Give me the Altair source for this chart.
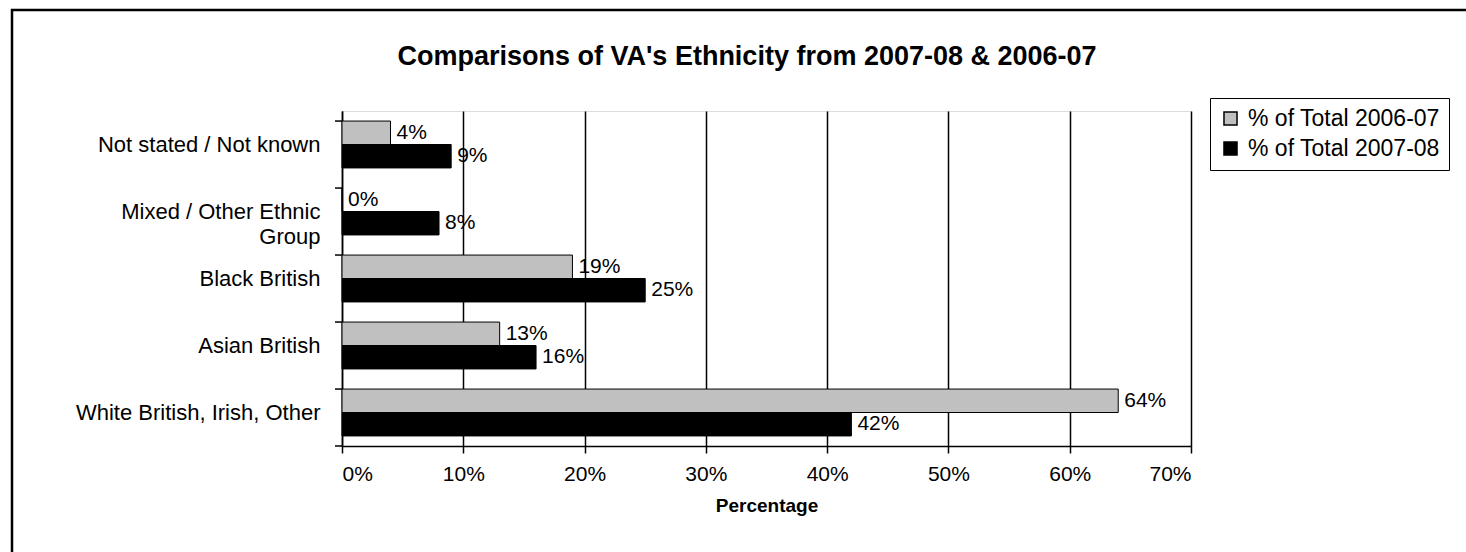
import altair as alt
import pandas as pd

title_text = "Comparisons of VA's Ethnicity from 2007-08 & 2006-07"
categories = ["Not stated / Not known", "Mixed / Other Ethnic Group", "Black British",
              "Asian British", "White British, Irish, Other"]
series = ["% of Total 2006-07", "% of Total 2007-08"]
values_2006 = [4, 0, 19, 13, 64]
values_2007 = [9, 8, 25, 16, 42]
x_ticks = [0, 10, 20, 30, 40, 50, 60, 70]
colors = ["#C0C0C0", "#000000"]

rows = []
for c, a, b in zip(categories, values_2006, values_2007):
    rows.append({"category": c, "series": series[0], "value": a / 100, "label": f"{a}%"})
    rows.append({"category": c, "series": series[1], "value": b / 100, "label": f"{b}%"})
df = pd.DataFrame(rows)

FONT = "Liberation Sans"
W, H = 849, 335
LEFT, TOP = 342, 111

yscale = alt.Scale(paddingInner=0.3, paddingOuter=0.15)
yaxis = alt.Axis(title=None, ticks=False, domainColor="black", domainWidth=1.5,
                 labelFont=FONT, labelFontSize=22, labelColor="black", labelPadding=22,
                 labelLimit=400, labelLineHeight=25,
                 labelExpr="datum.label == 'Mixed / Other Ethnic Group' ? ['Mixed / Other Ethnic', 'Group'] : datum.label")
xscale = alt.Scale(domain=[0, 0.7], nice=False)
xaxis = alt.Axis(title="Percentage", values=[t / 100 for t in x_ticks], format=".0%",
                 grid=True, gridColor="black", gridWidth=1.5, gridOpacity=1,
                 domainColor="black", domainWidth=1.5, tickColor="black", tickSize=7, tickWidth=1.5,
                 labelFont=FONT, labelFontSize=21, labelColor="black", labelPadding=10,
                 titleFont=FONT, titleFontSize=19, titleFontWeight="bold", titleColor="black",
                 titlePadding=12)

base = alt.Chart(df)

bars = base.mark_bar(stroke="black", strokeWidth=1).encode(
    y=alt.Y("category:N", sort=categories, scale=yscale, axis=yaxis),
    yOffset=alt.YOffset("series:N", sort=series),
    x=alt.X("value:Q", scale=xscale, axis=xaxis),
    color=alt.Color("series:N", sort=series,
                    scale=alt.Scale(domain=series, range=colors),
                    legend=alt.Legend(title=None, orient="none", legendX=868, legendY=-13,
                                      strokeColor="black", fillColor="white", padding=9,
                                      symbolType="square", symbolSize=170,
                                      symbolStrokeColor="black", symbolStrokeWidth=1.5,
                                      labelFont=FONT, labelFontSize=23, labelColor="black",
                                      labelLimit=500, rowPadding=6, labelOffset=6)),
)

labels = base.mark_text(align="left", baseline="middle", dx=6, font=FONT, fontSize=21,
                        color="black").encode(
    y=alt.Y("category:N", sort=categories, scale=yscale, axis=yaxis),
    yOffset=alt.YOffset("series:N", sort=series),
    x=alt.X("value:Q", scale=xscale, axis=xaxis),
    text="label:N",
)

tick_df = pd.DataFrame({"category": categories})
yticks = alt.Chart(tick_df).mark_rule(color="black", strokeWidth=1.5).encode(
    y=alt.Y("category:N", sort=categories, scale=yscale, axis=yaxis, bandPosition=0),
    x=alt.value(-7), x2=alt.value(0),
)
one = pd.DataFrame({"a": [0]})
bottom_tick = alt.Chart(one).mark_rule(color="black", strokeWidth=1.5).encode(
    y=alt.value(H), x=alt.value(-7), x2=alt.value(0),
)

border = alt.Chart(one).mark_rect(
    fill="transparent", stroke="black", strokeWidth=2.5).encode(
    x=alt.value(12 - LEFT), x2=alt.value(1466 - LEFT + 20),
    y=alt.value(10 - TOP), y2=alt.value(552 - TOP + 20),
)

title = alt.Chart(one).mark_text(text=title_text, font=FONT, fontSize=27, fontWeight="bold",
                                 color="black", align="center", baseline="middle").encode(
    x=alt.value(747 - LEFT), y=alt.value(57 - TOP),
)

chart = alt.layer(border, title, bars, labels, yticks, bottom_tick).properties(
    width=W, height=H,
    autosize=alt.AutoSizeParams(type="none"),
    padding={"left": LEFT, "top": TOP, "right": 1466 - LEFT - W, "bottom": 552 - TOP - H},
).configure_view(stroke=None).configure(background="white")

chart.save("out.html", embed_options={"renderer": "svg", "actions": False})
